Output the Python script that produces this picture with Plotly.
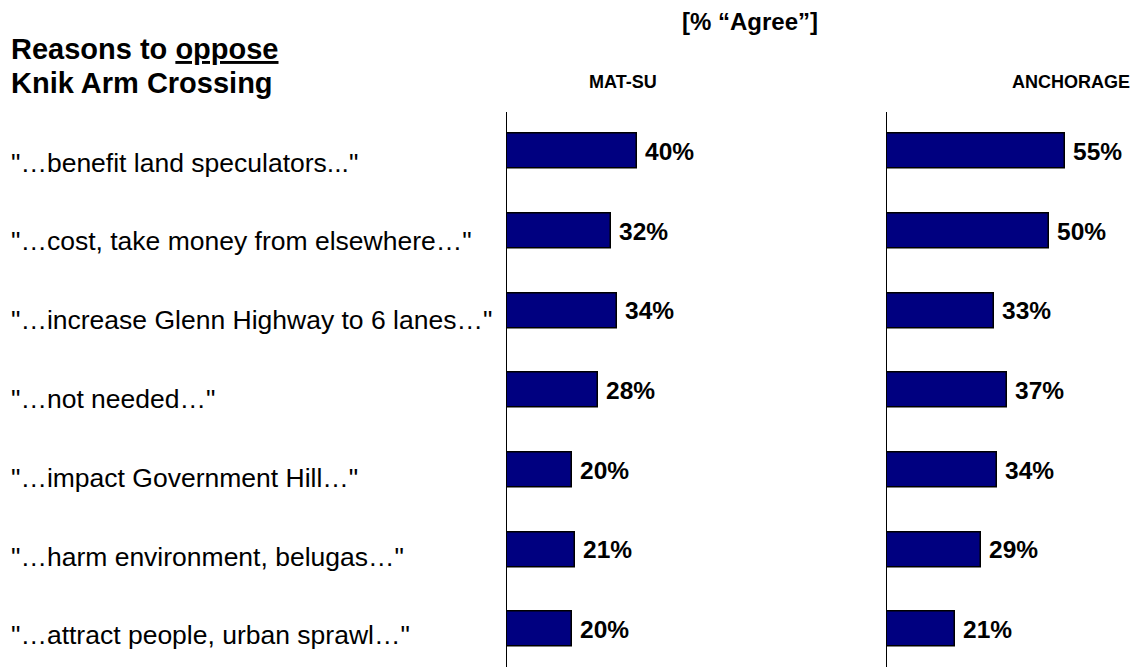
import plotly.graph_objects as go

# Survey items and the share agreeing in each region
reasons = [
    '"…benefit land speculators..."',
    '"…cost, take money from elsewhere…"',
    '"…increase Glenn Highway to 6 lanes…"',
    '"…not needed…"',
    '"…impact Government Hill…"',
    '"…harm environment, belugas…"',
    '"…attract people, urban sprawl…"',
]
mat_su = [40, 32, 34, 28, 20, 21, 20]
anchorage = [55, 50, 33, 37, 34, 29, 21]
regions = ["MAT-SU", "ANCHORAGE"]

W, H = 1135, 667
FONT = "Arial, Liberation Sans, sans-serif"
BAR_FILL = "#000080"


def py(px):
    """Convert a pixel row (from top) to paper y."""
    return 1 - px / H


def px_x(px):
    return px / W


fig = go.Figure()

x_domains = [(507, 507 + 3.24 * 60), (887, 887 + 3.24 * 60)]
series = [mat_su, anchorage]
y_top_px = 111.6
band = 79.67
y_range = [-0.5 + (H - y_top_px) / band, -0.5]

for i, (vals, name) in enumerate(zip(series, regions)):
    xa = "x" if i == 0 else "x2"
    ya = "y" if i == 0 else "y2"
    fig.add_trace(go.Bar(
        x=vals, y=reasons, orientation="h", name=name,
        xaxis=xa, yaxis=ya, width=0.44,
        marker=dict(color=BAR_FILL, line=dict(color="#000000", width=1.5)),
        showlegend=False, hoverinfo="skip",
    ))
    for r, v in zip(reasons, vals):
        fig.add_annotation(
            x=v, y=r, xref=xa, yref=ya, text=f"<b>{v}%</b>",
            xanchor="left", yanchor="middle", xshift=6, showarrow=False,
            font=dict(family=FONT, size=24.5, color="#000000"),
        )

axis_common = dict(range=[0, 60], showgrid=False, zeroline=False,
                   showticklabels=False, ticks="", showline=False)
yaxis_common = dict(type="category", categoryorder="array", categoryarray=reasons,
                    range=y_range, showgrid=False, zeroline=False,
                    showticklabels=False, ticks="", showline=True,
                    linecolor="#000000", linewidth=1,
                    domain=[0, py(y_top_px)])

fig.update_layout(
    width=W, height=H,
    margin=dict(l=0, r=0, t=0, b=0),
    paper_bgcolor="white", plot_bgcolor="white",
    bargap=0,
    xaxis=dict(domain=[px_x(x_domains[0][0]), px_x(x_domains[0][1])], anchor="y", **axis_common),
    xaxis2=dict(domain=[px_x(x_domains[1][0]), px_x(x_domains[1][1])], anchor="y2", **axis_common),
    yaxis=dict(anchor="x", **yaxis_common),
    yaxis2=dict(anchor="x2", **yaxis_common),
)

# Row labels on the left
for k, r in enumerate(reasons):
    fig.add_annotation(
        x=px_x(8.5), y=py(162.5 + 78.8 * k), xref="paper", yref="paper",
        text=r, xanchor="left", yanchor="middle", showarrow=False,
        font=dict(family=FONT, size=26.5, color="#000000"),
    )

# Headings
fig.add_annotation(
    x=px_x(9), y=py(49.5), xref="paper", yref="paper",
    text="<b>Reasons to <u>oppose</u></b>", xanchor="left", yanchor="middle",
    showarrow=False, font=dict(family=FONT, size=29, color="#000000"),
)
fig.add_annotation(
    x=px_x(9), y=py(83.5), xref="paper", yref="paper",
    text="<b>Knik Arm Crossing</b>", xanchor="left", yanchor="middle",
    showarrow=False, font=dict(family=FONT, size=29, color="#000000"),
)
fig.add_annotation(
    x=px_x(750), y=py(21.5), xref="paper", yref="paper",
    text="<b>[% “Agree”]</b>", xanchor="center", yanchor="middle",
    showarrow=False, font=dict(family=FONT, size=24, color="#000000"),
)
for name, cx in zip(regions, [622.5, 1071]):
    fig.add_annotation(
        x=px_x(cx), y=py(82), xref="paper", yref="paper",
        text=f"<b>{name}</b>", xanchor="center", yanchor="middle",
        showarrow=False, font=dict(family=FONT, size=18, color="#000000"),
    )

fig.write_html("out.html")
